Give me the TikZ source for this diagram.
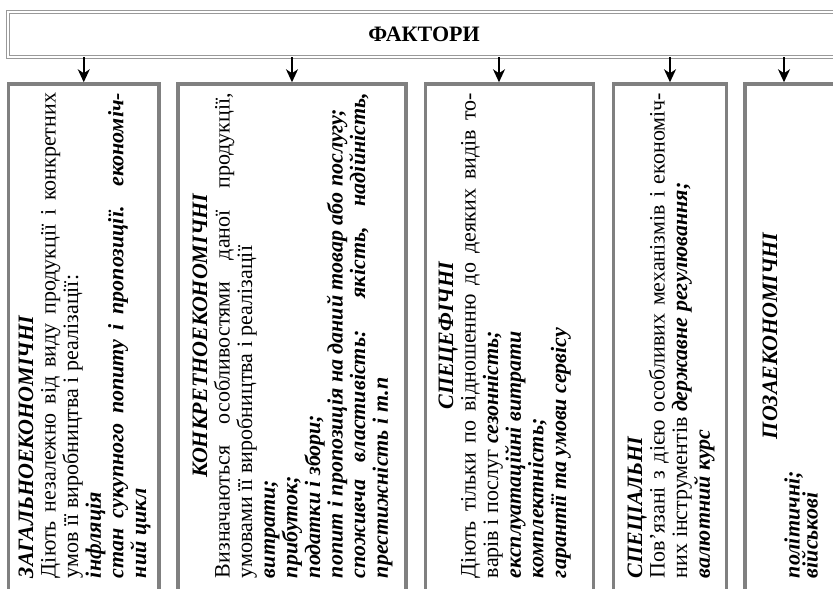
\documentclass[tikz,border=0pt]{standalone}
\usepackage{fontspec}
\setmainfont{Liberation Serif}
\usetikzlibrary{arrows.meta}
\newcommand\myBI[1]{\textbf{\textit{#1}}}
\newcommand\bodyfont{\fontsize{22bp}{22.6bp}\selectfont}
\begin{document}
\begin{tikzpicture}[x=1bp,y=-1bp,
  hdr/.style={draw=gray!80, double=white, double distance=1.8bp, line width=1bp,
    minimum width=832bp, minimum height=44.5bp, inner sep=0pt,
    font=\fontsize{22bp}{24bp}\selectfont\bfseries},
  fbox/.style={draw=gray, line width=3.5bp, minimum height=616bp, anchor=north, inner sep=0pt},
  arr/.style={line width=1.6bp, -{Stealth[length=13bp,width=12bp,inset=4bp]}},
  txt/.style={rotate=90, anchor=base west, inner sep=0pt, outer sep=0pt, font=\bodyfont}
]
\useasboundingbox (0,0) rectangle (833,589);
\clip (0,0) rectangle (833,589);
\fill[white] (0,0) rectangle (833,589);

\node[hdr] (header) at (424,34.5) {ФАКТОРИ};

\node[fbox, minimum width=150.5bp] (b1) at (83.75,82.25) {};
\node[fbox, minimum width=228bp] (b2) at (292,82.25) {};
\node[fbox, minimum width=168bp] (b3) at (509.5,82.25) {};
\node[fbox, minimum width=113bp] (b4) at (670,82.25) {};
\node[fbox, minimum width=155bp] (b5) at (822.5,82.25) {};

\draw[arr] (header.south -| b1.north) -- (b1.north);
\draw[arr] (header.south -| b2.north) -- (b2.north);
\draw[arr] ([xshift=-10.5bp]b3.north |- header.south) -- ([xshift=-10.5bp]b3.north);
\draw[arr] (header.south -| b4.north) -- (b4.north);
\draw[arr] ([xshift=-38.5bp]b5.north |- header.south) -- ([xshift=-38.5bp]b5.north);

\node[txt] (t1) at (33,578) {\parbox[t]{485bp}{\bodyfont\parindent=0pt\parskip=0pt
\myBI{ЗАГАЛЬНОЕКОНОМІЧНІ}\par
Діють незалежно від виду продукції і конкретних\linebreak
умов її виробництва і реалізації:\par
\myBI{інфляція}\par
\myBI{стан сукупного попиту і пропозиції. економіч-}\linebreak
\myBI{ний цикл}\par}};

\node[txt] (t2) at (207,578) {\parbox[t]{485bp}{\bodyfont\parindent=0pt\parskip=0pt
{\centering\myBI{КОНКРЕТНОЕКОНОМІЧНІ}\par}
Визначаються особливостями даної продукції,\linebreak
умовами її виробництва і реалізації\par
\myBI{витрати;}\par
\myBI{прибуток;}\par
\myBI{податки і збори;}\par
\myBI{попит і пропозиція на даний товар або послугу;}\par
\myBI{споживча властивість: якість, надійність,}\linebreak
\myBI{престижність і т.п}\par}};

\node[txt] (t3) at (453,578) {\parbox[t]{485bp}{\bodyfont\parindent=0pt\parskip=0pt
{\centering\myBI{СПЕЦЕФІЧНІ}\par}
Діють тільки по відношенню до деяких видів то-\linebreak
варів і послуг \myBI{сезонність;}\par
\myBI{експлуатаційні витрати}\par
\myBI{комплектність;}\par
\myBI{гарантії та умови сервісу}\par}};

\node[txt] (t4) at (642,578) {\parbox[t]{485bp}{\bodyfont\parindent=0pt\parskip=0pt
\myBI{СПЕЦІАЛЬНІ}\par
Пов’язані з дією особливих механізмів і економіч-\linebreak
них інструментів \myBI{державне регулювання;}\par
\myBI{валютний курс}\par}};

\node[txt] (t5) at (777,578) {\parbox[t]{485bp}{\bodyfont\parindent=0pt\parskip=0pt
{\centering\myBI{ПОЗАЕКОНОМІЧНІ}\par}
\myBI{політичні;}\par\vspace{-4.6bp}
\myBI{військові}\par}};
\end{tikzpicture}
\end{document}
